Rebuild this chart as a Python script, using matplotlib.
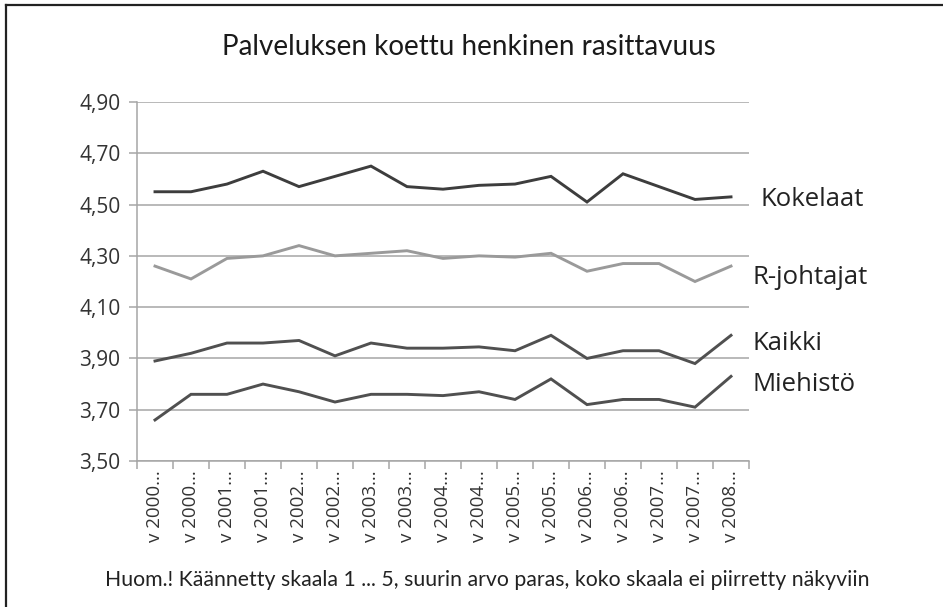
import matplotlib.pyplot as plt
import matplotlib.transforms as mtrans
from matplotlib.ticker import FuncFormatter, FixedLocator
from matplotlib.lines import Line2D

periods = ["v 2000...", "v 2000...", "v 2001...", "v 2001...", "v 2002...", "v 2002...",
           "v 2003...", "v 2003...", "v 2004...", "v 2004...", "v 2005...", "v 2005...",
           "v 2006...", "v 2006...", "v 2007...", "v 2007...", "v 2008..."]
kokelaat = [4.55, 4.55, 4.58, 4.63, 4.57, 4.61, 4.65, 4.57, 4.56, 4.575, 4.58, 4.61,
            4.51, 4.62, 4.57, 4.52, 4.53]
r_johtajat = [4.26, 4.21, 4.29, 4.30, 4.34, 4.30, 4.31, 4.32, 4.29, 4.30, 4.295, 4.31,
              4.24, 4.27, 4.27, 4.20, 4.26]
kaikki = [3.89, 3.92, 3.96, 3.96, 3.97, 3.91, 3.96, 3.94, 3.94, 3.945, 3.93, 3.99,
          3.90, 3.93, 3.93, 3.88, 3.99]
miehisto = [3.66, 3.76, 3.76, 3.80, 3.77, 3.73, 3.76, 3.76, 3.755, 3.77, 3.74, 3.82,
            3.72, 3.74, 3.74, 3.71, 3.83]

series = [("Kokelaat", kokelaat, "#3d3d3d"),
          ("R-johtajat", r_johtajat, "#9a9a9a"),
          ("Kaikki", kaikki, "#505050"),
          ("Miehistö", miehisto, "#505050")]
label_pos = {"Kokelaat": (1.018, 4.518), "R-johtajat": (1.005, 4.214),
             "Kaikki": (1.005, 3.96), "Miehistö": (1.005, 3.797)}

fig = plt.figure(figsize=(9.43, 6.07), dpi=100)
ax = fig.add_axes([137 / 943, 1 - 461 / 607, 612 / 943, 359 / 607])

x = list(range(len(periods)))
for name, vals, col in series:
    ax.plot(x, vals, color=col, lw=2.1, solid_joinstyle="miter")

trans = mtrans.blended_transform_factory(ax.transAxes, ax.transData)
for name, vals, col in series:
    px, py = label_pos[name]
    ax.text(px, py, name, transform=trans, ha="left", va="center",
            fontsize=18.5, family="Open Sans", color="#222222")

ax.set_xlim(-0.5, len(periods) - 0.5)
ax.set_ylim(3.5, 4.9)
ax.set_yticks([3.5 + 0.2 * i for i in range(8)])
ax.yaxis.set_major_formatter(FuncFormatter(lambda v, p: f"{v:.2f}".replace(".", ",")))
ax.grid(axis="y", color="#a6a6a6", lw=1.1)
ax.set_axisbelow(True)

ax.set_xticks(x)
ax.set_xticklabels(periods, rotation=90, fontsize=13.5, family="Open Sans", color="#333333")
ax.tick_params(axis="x", which="major", length=0, pad=7)
ax.xaxis.set_minor_locator(FixedLocator([i - 0.5 for i in range(len(periods) + 1)]))
ax.tick_params(axis="x", which="minor", length=6, color="#a6a6a6", width=1.1)
ax.tick_params(axis="y", length=6, color="#a6a6a6", width=1.1, labelsize=15,
               labelcolor="#333333", pad=6)
for lab in ax.get_yticklabels():
    lab.set_family("Open Sans")

for side in ["top", "right"]:
    ax.spines[side].set_visible(False)
for side in ["left", "bottom"]:
    ax.spines[side].set_color("#a6a6a6")
    ax.spines[side].set_linewidth(1.1)

fig.text(469 / 943, 1 - 47 / 607, "Palveluksen koettu henkinen rasittavuus",
         ha="center", va="center", fontsize=20, family="Lato", color="#1a1a1a")
fig.text(487 / 943, 1 - 580 / 607,
         "Huom.! Käännetty skaala 1 ... 5, suurin arvo paras, koko skaala ei piirretty näkyviin",
         ha="center", va="center", fontsize=15.3, family="Lato", color="#222222")

# outer frame (top and left edges visible)
fig.add_artist(Line2D([6 / 943, 1], [1 - 5 / 607, 1 - 5 / 607], transform=fig.transFigure,
                      color="#222222", lw=1.6))
fig.add_artist(Line2D([6 / 943, 6 / 943], [0, 1 - 5 / 607], transform=fig.transFigure,
                      color="#222222", lw=1.6))

fig.savefig("out.png", dpi=100)
